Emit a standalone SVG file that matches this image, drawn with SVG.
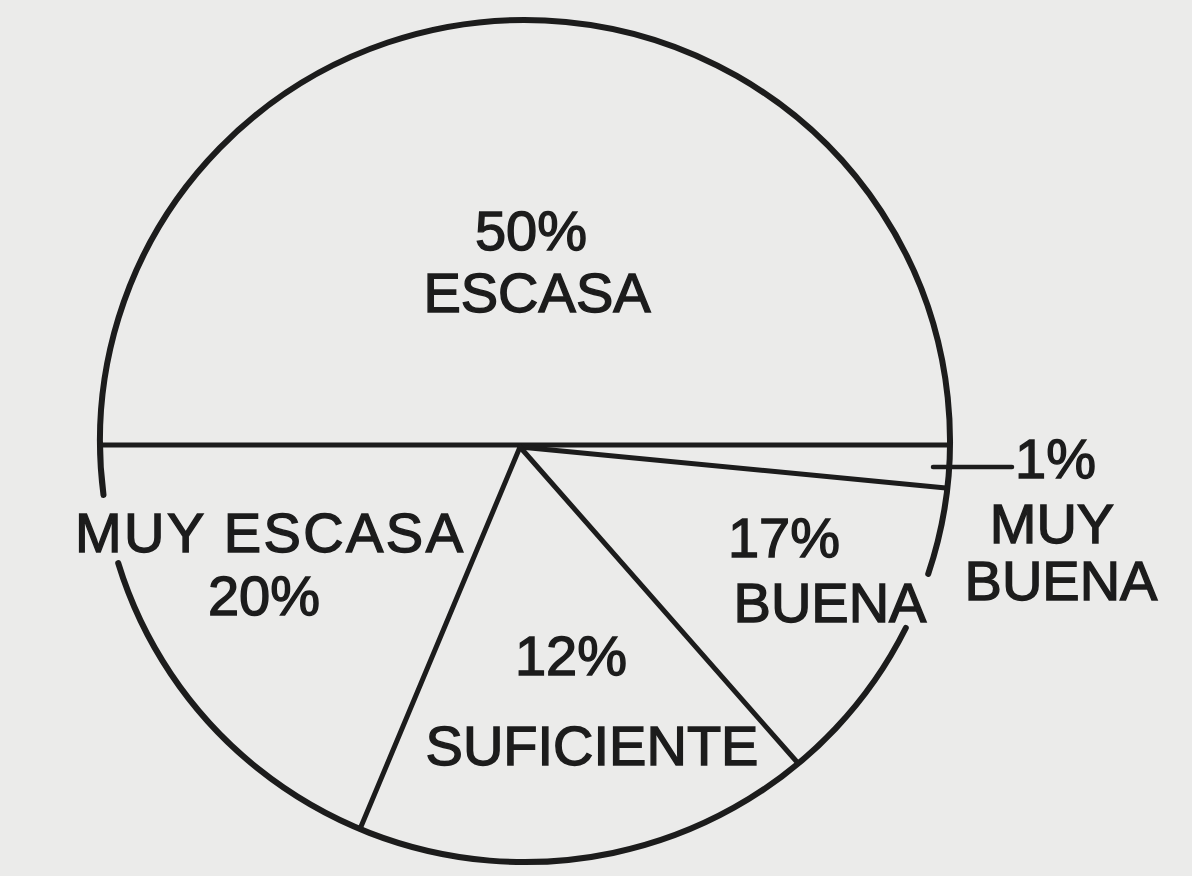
<svg xmlns="http://www.w3.org/2000/svg" width="1192" height="876" viewBox="0 0 1192 876">
<style>
.t{font-family:"Liberation Sans",Arial,sans-serif;font-size:56px;fill:#1c1c1c;stroke:#1c1c1c;stroke-width:1.4}
.ln{stroke:#1c1c1c;stroke-width:5;fill:none;stroke-linecap:round}
.arc{stroke:#1c1c1c;stroke-width:6;fill:none;stroke-linecap:round}
</style>
<rect width="1192" height="876" fill="#ebebea"/>
<g id="pie">
<path class="arc" d="M905.8,628 A425,421 0 0 1 118.2,563"/>
<path class="arc" d="M103.5,495 A425,421 0 1 1 928.2,574"/>
</g>
<g id="connectors">
<line class="ln" x1="100" y1="445" x2="949" y2="445"/>
<line class="ln" x1="520" y1="447" x2="946" y2="488"/>
<line class="ln" x1="520" y1="447" x2="360" y2="829"/>
<line class="ln" x1="520" y1="447" x2="797" y2="762"/>
<line class="ln" x1="933" y1="467" x2="1012" y2="467" style="stroke-width:4.5"/>
</g>
<g id="escasa"><text class="t" x="531" y="250" text-anchor="middle">50%</text><text class="t" x="537" y="312" text-anchor="middle">ESCASA</text></g>
<g id="muy-escasa"><text class="t" x="75" y="552" textLength="388" lengthAdjust="spacing">MUY ESCASA</text><text class="t" x="264" y="615" text-anchor="middle">20%</text></g>
<g id="suficiente"><text class="t" x="571" y="675" text-anchor="middle">12%</text><text class="t" x="592" y="765" text-anchor="middle">SUFICIENTE</text></g>
<g id="buena"><text class="t" x="784" y="557" text-anchor="middle">17%</text><text class="t" x="830" y="622" text-anchor="middle">BUENA</text></g>
<g id="muy-buena"><text class="t" x="1015" y="478">1%</text><text class="t" x="1052" y="543" text-anchor="middle">MUY</text><text class="t" x="1061" y="600" text-anchor="middle">BUENA</text></g>
</svg>
